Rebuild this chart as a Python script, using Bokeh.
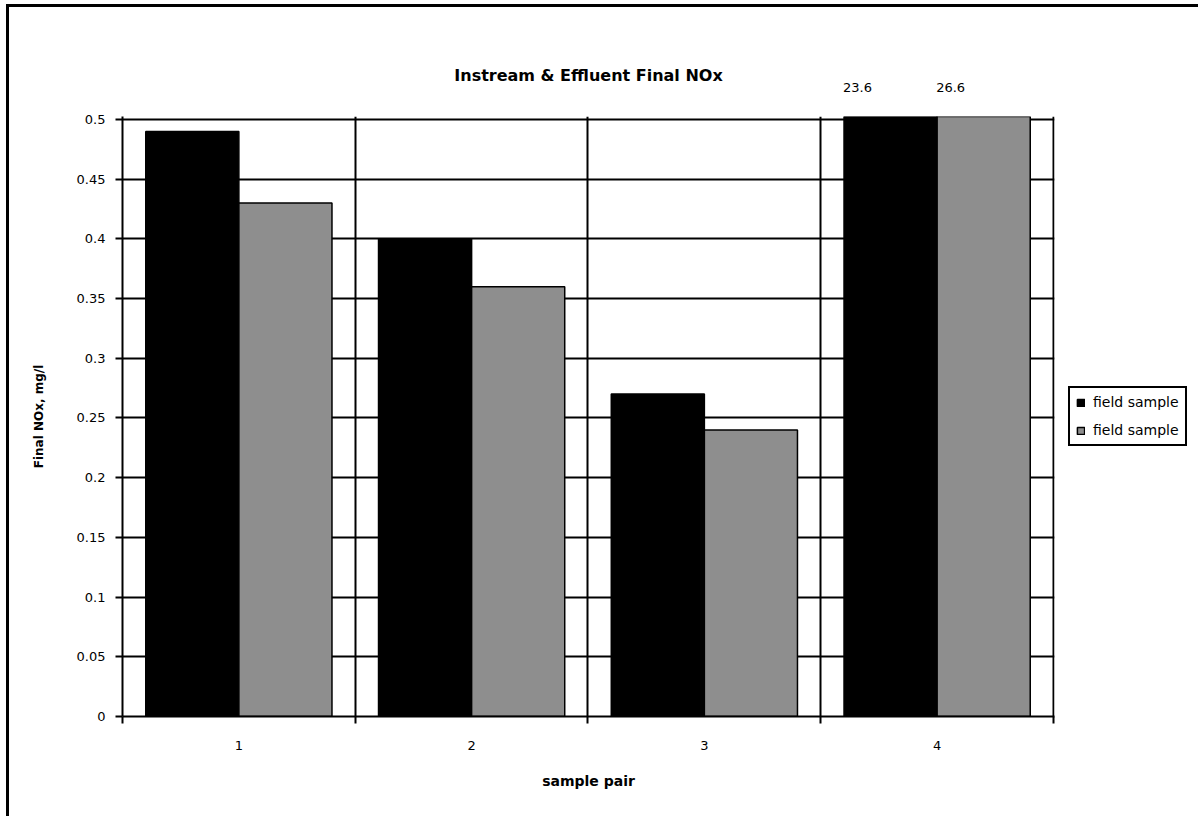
from bokeh.plotting import figure
from bokeh.models import (ColumnDataSource, FixedTicker, Legend, LegendItem,
                          LinearAxis, Range1d)
from bokeh.transform import dodge
from bokeh.embed import file_html
from bokeh.resources import INLINE

# ---------------- data ----------------
categories = ["1", "2", "3", "4"]
series_a_name = "field sample"
series_b_name = "field sample"
series_a = [0.49, 0.40, 0.27, 23.6]
series_b = [0.43, 0.36, 0.24, 26.6]
y_ticks = [0, 0.05, 0.1, 0.15, 0.2, 0.25, 0.3, 0.35, 0.4, 0.45, 0.5]
y_tick_labels = ["0", "0.05", "0.1", "0.15", "0.2", "0.25", "0.3", "0.35",
                 "0.4", "0.45", "0.5"]
title_text = "Instream & Effluent Final NOx"
x_title = "sample pair"
y_title = "Final NOx, mg/l"

# ---------------- styles ----------------
FONT = "DejaVu Sans"
GRAY = "#8e8e8e"
Y_MAX = 0.5
BAR_W = 0.4
LABEL_SHIFT = -0.142   # value labels sit a little left of their bars

xpos = list(range(1, len(categories) + 1))
src = ColumnDataSource(dict(x=xpos, a=series_a, b=series_b))

p = figure(frame_width=932, frame_height=600,
           x_range=Range1d(0.5, 4.5043), y_range=Range1d(0, 0.5025),
           output_backend="svg", toolbar_location=None,
           min_border_left=113, min_border_right=143,
           min_border_top=109, min_border_bottom=100,
           styles={"border-left": "3px solid black",
                   "border-top": "3px solid black",
                   "margin-left": "6px", "margin-top": "4px"})
p.outline_line_color = None
p.background_fill_color = "white"
p.border_fill_color = "white"

r1 = p.vbar(x=dodge("x", -BAR_W / 2, range=p.x_range), top="a", width=BAR_W,
            source=src, fill_color="black", line_color="black", line_width=1.5)
r2 = p.vbar(x=dodge("x", BAR_W / 2, range=p.x_range), top="b", width=BAR_W,
            source=src, fill_color=GRAY, line_color="black", line_width=1.5)

# grids
bounds = [x - 0.5 for x in xpos] + [xpos[-1] + 0.5]
p.xgrid.ticker = FixedTicker(ticks=bounds)
p.ygrid.ticker = FixedTicker(ticks=y_ticks)
for g in (p.xgrid, p.ygrid):
    g.grid_line_color = "black"
    g.grid_line_width = 2
    g.grid_line_alpha = 1.0

# x axis
xa = p.xaxis[0]
xa.ticker = FixedTicker(ticks=xpos, minor_ticks=bounds)
xa.major_label_overrides = {x: c for x, c in zip(xpos, categories)}
xa.major_tick_line_color = None
xa.major_tick_out = 6
xa.major_tick_in = 0
xa.minor_tick_line_color = "black"
xa.minor_tick_line_width = 2
xa.minor_tick_out = 7
xa.minor_tick_in = 0
xa.axis_line_width = 2
xa.axis_line_color = "black"
xa.major_label_text_font = FONT
xa.major_label_text_font_size = "13px"
xa.major_label_text_color = "black"
xa.major_label_standoff = 17
xa.axis_label = x_title
xa.axis_label_text_font = FONT
xa.axis_label_text_font_size = "14px"
xa.axis_label_text_font_style = "bold"
xa.axis_label_text_color = "black"
xa.axis_label_standoff = 20

# y axis
ya = p.yaxis[0]
ya.ticker = FixedTicker(ticks=y_ticks)
ya.major_label_overrides = {t: l for t, l in zip(y_ticks, y_tick_labels)}
ya.major_tick_out = 7
ya.major_tick_in = 0
ya.major_tick_line_width = 2
ya.major_tick_line_color = "black"
ya.minor_tick_line_color = None
ya.axis_line_width = 2
ya.axis_line_color = "black"
ya.major_label_text_font = FONT
ya.major_label_text_font_size = "13px"
ya.major_label_text_color = "black"
ya.major_label_standoff = 10
ya.axis_label = y_title
ya.axis_label_text_font = FONT
ya.axis_label_text_font_size = "12px"
ya.axis_label_text_font_style = "bold"
ya.axis_label_text_color = "black"
ya.axis_label_standoff = 28

# top axis: values of bars that run off the chart, and the chart title
lx, lt = [], []
for vals, d in ((series_a, -BAR_W / 2), (series_b, BAR_W / 2)):
    for x, v in zip(xpos, vals):
        if v > Y_MAX:
            lx.append(round(x + d + LABEL_SHIFT, 4))
            lt.append(f"{v:g}")
top = LinearAxis(ticker=FixedTicker(ticks=lx),
                 major_label_overrides={x: t for x, t in zip(lx, lt)})
top.axis_line_color = None
top.major_tick_line_color = None
top.major_tick_out = 0
top.major_tick_in = 0
top.minor_tick_line_color = None
top.minor_tick_out = 0
top.major_label_standoff = 25
top.major_label_text_font = FONT
top.major_label_text_font_size = "13px"
top.major_label_text_color = "black"
top.axis_label = title_text
top.axis_label_text_font = FONT
top.axis_label_text_font_size = "16px"
top.axis_label_text_font_style = "bold"
top.axis_label_text_color = "black"
top.axis_label_standoff = -5
p.add_layout(top, "above")

# legend
legend = Legend(items=[LegendItem(label=series_a_name, renderers=[r1]),
                       LegendItem(label=series_b_name, renderers=[r2])],
                location="center_left")
legend.border_line_color = "black"
legend.border_line_width = 2
legend.border_line_alpha = 1.0
legend.background_fill_color = "white"
legend.background_fill_alpha = 1.0
legend.label_text_font = FONT
legend.label_text_font_size = "14px"
legend.label_text_color = "black"
legend.glyph_width = 9
legend.glyph_height = 9
legend.padding = 6
legend.spacing = 12
legend.label_height = 14
legend.label_width = 86
legend.label_standoff = 8
legend.margin = 14
p.add_layout(legend, "right")

open("out.html", "w").write(file_html(p, INLINE))
